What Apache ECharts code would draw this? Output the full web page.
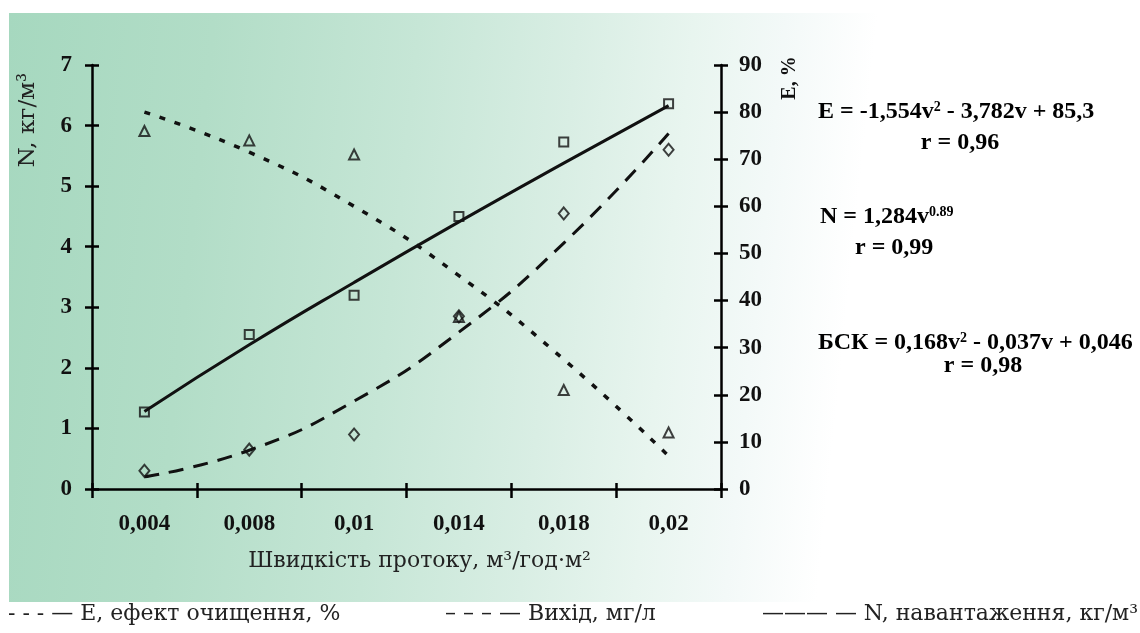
<!DOCTYPE html>
<html>
<head>
<meta charset="utf-8">
<script src="https://cdn.jsdelivr.net/npm/echarts@6/dist/echarts.min.js"></script>
<style>
html,body{margin:0;padding:0;background:#fff;}
#chart{width:1140px;height:633px;}
</style>
</head>
<body>
<div id="chart"></div>
<script>
// Category (x) tick labels
const categories = ['0,004', '0,008', '0,01', '0,014', '0,018', '0,02'];
// E, effect of cleaning, % (right axis): measured points and fitted curve
const eMeasured = [76, 74, 71, 36.5, 21, 12];
const eFit = [80, 71.5, 60, 45.3, 27.5, 7];
// Output (Вихід), mg/l (left axis): measured points and fitted curve
const outMeasured = [0.3, 0.65, 0.9, 2.85, 4.55, 5.6];
const outFit = [0.2, 0.64, 1.45, 2.59, 4.06, 5.87];
// N, load, kg/m3 (left axis): measured points and fitted curve
const nMeasured = [1.27, 2.55, 3.2, 4.5, 5.73, 6.36];
const nFit = [1.28, 2.38, 3.41, 4.41, 5.38, 6.33];
// Axis ranges
const leftAxis = { min: 0, max: 7, interval: 1 };
const rightAxis = { min: 0, max: 90, interval: 10 };

const tickFont = { fontFamily: 'Liberation Serif', fontWeight: 'bold', fontSize: 23, color: '#111' };
const eqFont = { fontFamily: 'Liberation Serif', fontWeight: 'bold', fontSize: 24, color: '#111' };
const supFont = { fontFamily: 'Liberation Serif', fontWeight: 'bold', fontSize: 14, color: '#111', verticalAlign: 'top', lineHeight: 14, padding: [0, 0, 10, 0] };
const serif = 'DejaVu Serif';
const axisLineStyle = { color: '#000', width: 2.5 };

const chart = echarts.init(document.getElementById('chart'), null, { renderer: 'canvas' });

function eqText(x, y, text, align) {
  return {
    type: 'text', x: x, y: y, z: 10,
    style: {
      text: text,
      align: align || 'left', verticalAlign: 'middle',
      rich: { a: eqFont, s: supFont }
    }
  };
}

const option = {
  backgroundColor: '#fff',
  animation: false,
  grid: { left: 92, right: 419, top: 65, bottom: 144, containLabel: false },
  graphic: [
    {
      type: 'rect', z: -10, silent: true,
      shape: { x: 9, y: 13, width: 1131, height: 589 },
      style: {
        fill: new echarts.graphic.LinearGradient(0, 0, 1, 0.2, [
          { offset: 0, color: '#a6d8bf' },
          { offset: 0.18, color: '#b2ddc7' },
          { offset: 0.36, color: '#c6e6d6' },
          { offset: 0.5, color: '#d9eee4' },
          { offset: 0.6, color: '#e8f5ef' },
          { offset: 0.68, color: '#f3f9f8' },
          { offset: 0.76, color: '#ffffff' },
          { offset: 1, color: '#ffffff' }
        ])
      }
    },
    {
      type: 'text', x: 28, y: 120, rotation: Math.PI / 2, z: 10,
      style: { text: 'N, кг/м³', fontFamily: serif, fontSize: 23, fill: '#222', align: 'center', verticalAlign: 'middle' }
    },
    {
      type: 'text', x: 790, y: 78, rotation: Math.PI / 2, z: 10,
      style: { text: 'E, %', fontFamily: 'Liberation Serif', fontWeight: 'bold', fontSize: 20, fill: '#111', align: 'center', verticalAlign: 'middle' }
    },
    eqText(818, 112, '{a|E = -1,554v}{s|2}{a| - 3,782v + 85,3}'),
    eqText(960, 143, '{a|r = 0,96}', 'center'),
    eqText(820, 217, '{a|N = 1,284v}{s|0.89}'),
    eqText(855, 248, '{a|r = 0,99}'),
    eqText(818, 343, '{a|БСК = 0,168v}{s|2}{a| - 0,037v + 0,046}'),
    eqText(983, 366, '{a|r = 0,98}', 'center'),
    {
      type: 'text', x: 8, y: 614, z: 10,
      style: { text: '- - - — E, ефект очищення, %', fontFamily: serif, fontSize: 22, fill: '#222', align: 'left', verticalAlign: 'middle' }
    },
    {
      type: 'text', x: 445, y: 614, z: 10,
      style: { text: '– – – — Вихід, мг/л', fontFamily: serif, fontSize: 22, fill: '#222', align: 'left', verticalAlign: 'middle' }
    },
    {
      type: 'text', x: 1138, y: 614, z: 10,
      style: { text: '——— — N, навантаження, кг/м³', fontFamily: serif, fontSize: 22, fill: '#222', align: 'right', verticalAlign: 'middle' }
    }
  ],
  xAxis: [
    {
      type: 'category', data: categories, position: 'bottom', boundaryGap: true,
      axisLine: { show: true, onZero: false, lineStyle: axisLineStyle },
      axisTick: { show: true, length: 9, lineStyle: axisLineStyle },
      axisLabel: Object.assign({ margin: 24 }, tickFont),
      splitLine: { show: false },
      name: 'Швидкість протоку, м³/год·м²',
      nameLocation: 'middle', nameGap: 61,
      nameTextStyle: { fontFamily: serif, fontSize: 22, color: '#222', padding: [0, 0, 0, 26] }
    },
    {
      type: 'category', data: categories, position: 'bottom', boundaryGap: true,
      axisLine: { show: false, onZero: false },
      axisTick: { show: true, inside: true, length: 6, lineStyle: axisLineStyle },
      axisLabel: { show: false }, splitLine: { show: false }
    }
  ],
  yAxis: [
    {
      type: 'value', position: 'left', min: leftAxis.min, max: leftAxis.max, interval: leftAxis.interval,
      axisLine: { show: true, lineStyle: axisLineStyle },
      axisTick: { show: true, length: 7, lineStyle: axisLineStyle },
      axisLabel: Object.assign({ margin: 20 }, tickFont),
      splitLine: { show: false }
    },
    {
      type: 'value', position: 'left', min: leftAxis.min, max: leftAxis.max, interval: leftAxis.interval,
      axisLine: { show: false },
      axisTick: { show: true, inside: true, length: 7, lineStyle: axisLineStyle },
      axisLabel: { show: false }, splitLine: { show: false }
    },
    {
      type: 'value', position: 'right', min: rightAxis.min, max: rightAxis.max, interval: rightAxis.interval,
      axisLine: { show: true, lineStyle: axisLineStyle },
      axisTick: { show: true, length: 7, lineStyle: axisLineStyle },
      axisLabel: Object.assign({ margin: 18 }, tickFont),
      splitLine: { show: false }
    },
    {
      type: 'value', position: 'right', min: rightAxis.min, max: rightAxis.max, interval: rightAxis.interval,
      axisLine: { show: false },
      axisTick: { show: true, inside: true, length: 7, lineStyle: axisLineStyle },
      axisLabel: { show: false }, splitLine: { show: false }
    }
  ],
  series: [
    {
      name: 'E fit', type: 'line', xAxisIndex: 0, yAxisIndex: 2, data: eFit, smooth: true,
      symbol: 'none', z: 3,
      lineStyle: { color: '#111', width: 3.5, type: [6, 10], cap: 'butt' }
    },
    {
      name: 'Вихід fit', type: 'line', xAxisIndex: 0, yAxisIndex: 0, data: outFit, smooth: true,
      symbol: 'none', z: 3,
      lineStyle: { color: '#111', width: 3, type: [15, 10], cap: 'butt' }
    },
    {
      name: 'N fit', type: 'line', xAxisIndex: 0, yAxisIndex: 0, data: nFit, smooth: true,
      symbol: 'none', z: 3,
      lineStyle: { color: '#111', width: 3, type: 'solid' }
    },
    {
      name: 'E', type: 'scatter', xAxisIndex: 0, yAxisIndex: 2, data: eMeasured,
      symbol: 'triangle', symbolSize: 10, z: 5,
      itemStyle: { color: 'rgba(0,0,0,0)', borderColor: '#111', borderWidth: 2 }
    },
    {
      name: 'Вихід', type: 'scatter', xAxisIndex: 0, yAxisIndex: 0, data: outMeasured,
      symbol: 'diamond', symbolSize: [10, 12], z: 5,
      itemStyle: { color: 'rgba(0,0,0,0)', borderColor: '#111', borderWidth: 2 }
    },
    {
      name: 'N', type: 'scatter', xAxisIndex: 0, yAxisIndex: 0, data: nMeasured,
      symbol: 'rect', symbolSize: 9, z: 5,
      itemStyle: { color: 'rgba(0,0,0,0)', borderColor: '#111', borderWidth: 2 }
    }
  ]
};
chart.setOption(option);
</script>
</body>
</html>
